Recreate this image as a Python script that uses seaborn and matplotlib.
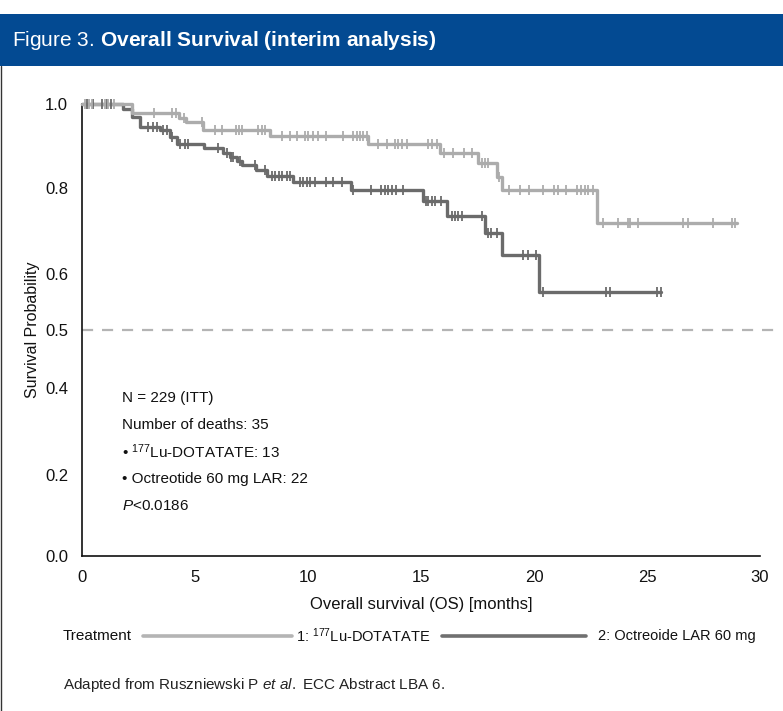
import numpy as np
import pandas as pd
import matplotlib
matplotlib.use("Agg")
import matplotlib.pyplot as plt
from matplotlib.lines import Line2D
from matplotlib.patches import Rectangle
import seaborn as sns

# ---- Kaplan-Meier step data (months, survival probability after the drop) ----
lu_drop_times = [2.2, 4.3, 4.6, 5.35, 8.3, 12.65, 15.85, 17.5, 18.35, 18.6, 22.8]
lu_drop_surv = [0.979, 0.967, 0.957, 0.938, 0.924, 0.905, 0.883, 0.860, 0.826, 0.795, 0.719]
lu_end = 29.0
lu_censor = [0.15, 0.3, 0.45, 1.0, 1.15, 1.4, 3.2, 4.0, 4.15, 4.5, 5.3, 5.9, 6.2, 6.8,
             6.95, 7.1, 7.8, 7.95, 8.1, 8.85, 9.2, 9.5, 9.85, 10.0, 10.2, 10.45, 10.8,
             11.55, 12.0, 12.15, 12.3, 12.45, 12.6, 13.1, 13.5, 13.85, 14.0, 14.15, 14.4,
             15.3, 15.5, 15.7, 16.0, 16.4, 16.9, 17.25, 17.7, 17.85, 17.95, 18.45, 18.9,
             19.4, 19.8, 20.4, 20.9, 21.05, 21.4, 21.9, 22.1, 22.25, 22.4, 22.6, 23.05,
             23.7, 24.15, 24.25, 24.6, 26.6, 26.8, 27.9, 28.75, 28.9]

oc_drop_times = [1.8, 2.2, 2.57, 3.45, 3.9, 4.2, 5.4, 6.25, 6.55, 6.85, 7.1, 7.7, 8.2,
                 9.35, 11.9, 15.1, 16.15, 17.85, 18.6, 20.2]
oc_drop_surv = [0.988, 0.969, 0.945, 0.938, 0.921, 0.905, 0.895, 0.883, 0.874, 0.864,
                0.855, 0.843, 0.829, 0.814, 0.795, 0.770, 0.735, 0.695, 0.644, 0.568]
oc_end = 25.6
oc_censor = [0.2, 0.5, 0.9, 1.1, 1.3, 2.9, 3.15, 3.3, 3.6, 3.75, 4.0, 4.35, 4.55, 4.7,
             6.0, 6.4, 6.6, 6.7, 7.0, 7.65, 8.1, 8.4, 8.55, 8.7, 8.85, 9.05, 9.2, 9.65,
             9.8, 9.95, 10.1, 10.3, 10.8, 11.1, 11.5, 12.0, 12.8, 13.25, 13.4, 13.55,
             13.7, 13.9, 14.2, 15.2, 15.3, 15.5, 15.6, 15.9, 16.35, 16.5, 16.65, 16.8,
             17.7, 17.95, 18.1, 18.35, 19.5, 19.75, 20.1, 20.4, 23.2, 23.35, 25.45, 25.6]

group_names = ["1: $^{\\mathrm{177}}$Lu-DOTATATE", "2: Octreoide LAR 60 mg"]
group_colors = ["#acacac", "#6b6b6b"]

y_ticks = [0.0, 0.2, 0.4, 0.5, 0.6, 0.8, 1.0]
y_tick_labels = ["0.0", "0.2", "0.4", "0.5", "0.6", "0.8", "1.0"]
x_ticks = [0, 5, 10, 15, 20, 25, 30]

info_lines = ["N = 229 (ITT)", "Number of deaths: 35",
              "\u2022 $^{\\mathrm{177}}$Lu-DOTATATE: 13",
              "\u2022 Octreotide 60 mg LAR: 22",
              "$\\mathit{P}$<0.0186"]

# ---- styling ----
sns.set_theme(style="white")
FONT = "Liberation Sans"
plt.rcParams["font.family"] = [FONT, "DejaVu Sans"]
plt.rcParams["mathtext.fontset"] = "custom"
plt.rcParams["mathtext.rm"] = FONT
plt.rcParams["mathtext.it"] = FONT + ":italic"
plt.rcParams["mathtext.bf"] = FONT + ":bold"

W, H = 783, 711
fig = plt.figure(figsize=(W / 100, H / 100), dpi=100)


def fx(x):
    return x / W


def fy(y):
    return 1 - y / H


# header band and panel frame
fig.add_artist(Rectangle((0, fy(66)), 1, fy(14) - fy(66), transform=fig.transFigure,
                         facecolor="#034a92", edgecolor="none", zorder=0))
fig.add_artist(Line2D([fx(1), fx(1)], [0, fy(66)], transform=fig.transFigure,
                      color="#333333", lw=1.0))
fig.text(fx(12), fy(41), "Figure 3. $\\mathbf{Overall\\ Survival\\ (interim\\ analysis)}$",
         color="white", fontsize=15, va="center", ha="left")

ax = fig.add_axes([fx(82), fy(556), fx(760) - fx(82), fy(104) - fy(556)])

# piecewise-linear vertical scale as printed on the original axis
val_knots = np.array([0.0, 0.2, 0.4, 0.5, 0.6, 0.8, 1.0])
pos_knots = np.array([0.0, 0.179, 0.372, 0.5, 0.624, 0.814, 1.0])
ax.set_yscale("function", functions=(lambda v: np.interp(v, val_knots, pos_knots),
                                     lambda p: np.interp(p, pos_knots, val_knots)))


def step_frame(times, surv, end, label):
    t = [0.0] + list(times) + [end]
    s = [1.0] + list(surv) + [surv[-1]]
    return pd.DataFrame({"time": t, "surv": s, "group": label})


def censor_frame(times, dtimes, dsurv, label):
    levels = np.array([1.0] + list(dsurv))
    idx = np.searchsorted(np.array(dtimes), np.array(times), side="right")
    return pd.DataFrame({"time": times, "surv": levels[idx], "group": label})


curves = pd.concat([step_frame(lu_drop_times, lu_drop_surv, lu_end, group_names[0]),
                    step_frame(oc_drop_times, oc_drop_surv, oc_end, group_names[1])])
marks = pd.concat([censor_frame(lu_censor, lu_drop_times, lu_drop_surv, group_names[0]),
                   censor_frame(oc_censor, oc_drop_times, oc_drop_surv, group_names[1])])
palette = dict(zip(group_names, group_colors))

ax.axhline(0.5, xmin=0, xmax=(775 - 82) / (760 - 82), color="#b4b4b4", lw=1.6,
           dashes=(5, 4), clip_on=False, zorder=1)

for g in group_names[::-1]:
    sns.lineplot(data=curves[curves.group == g], x="time", y="surv", color=palette[g],
                 drawstyle="steps-post", estimator=None, sort=False, lw=2.4,
                 legend=False, ax=ax, clip_on=False, zorder=3)
    sns.scatterplot(data=marks[marks.group == g], x="time", y="surv", color=palette[g],
                    marker="|", s=55, linewidth=1.3, legend=False, ax=ax,
                    clip_on=False, zorder=4)

ax.set_xlim(0, 30)
ax.set_ylim(0, 1.0)
ax.set_xticks(x_ticks)
ax.set_xticklabels([str(v) for v in x_ticks])
ax.set_yticks(y_ticks)
ax.set_yticklabels(y_tick_labels)
ax.tick_params(axis="both", which="major", labelsize=12, colors="#111111",
               length=7, width=1.2, direction="out", pad=3)
# the 0.5 reference level is labelled but not ticked
ax.yaxis.get_major_ticks()[3].tick1line.set_visible(False)
for side in ["top", "right"]:
    ax.spines[side].set_visible(False)
for side in ["left", "bottom"]:
    ax.spines[side].set_color("#111111")
    ax.spines[side].set_linewidth(1.2)

ax.set_xlabel("Overall survival (OS) [months]", fontsize=12, color="#111111",
              va="center")
ax.xaxis.set_label_coords(0.5, (556 - 604) / 452)
ax.set_ylabel("Survival Probability", fontsize=11.5, color="#111111", va="center")
ax.yaxis.set_label_coords((33 - 82) / 678, 0.5)

for i, line in enumerate(info_lines):
    fig.text(fx(122), fy(398 + 27 * i), line, fontsize=11, color="#111111",
             va="center", ha="left")

# treatment key below the axes
key_y = 636
fig.text(fx(63), fy(key_y), "Treatment", fontsize=11, color="#111111", va="center")
fig.add_artist(Line2D([fx(143), fx(292)], [fy(key_y), fy(key_y)],
                      transform=fig.transFigure, color="#b4b4b4", lw=2.6))
fig.text(fx(296), fy(key_y), group_names[0], fontsize=10.5, color="#111111", va="center")
fig.add_artist(Line2D([fx(442), fx(586)], [fy(key_y), fy(key_y)],
                      transform=fig.transFigure, color="#707070", lw=2.6))
fig.text(fx(598), fy(key_y), group_names[1], fontsize=10.5, color="#111111", va="center")

fig.text(fx(63), fy(685),
         "Adapted from Ruszniewski P $\\mathit{et\\ al.}$ ECC Abstract LBA 6.",
         fontsize=11, color="#222222", va="center")

fig.savefig("out.png", dpi=100, facecolor="white")
